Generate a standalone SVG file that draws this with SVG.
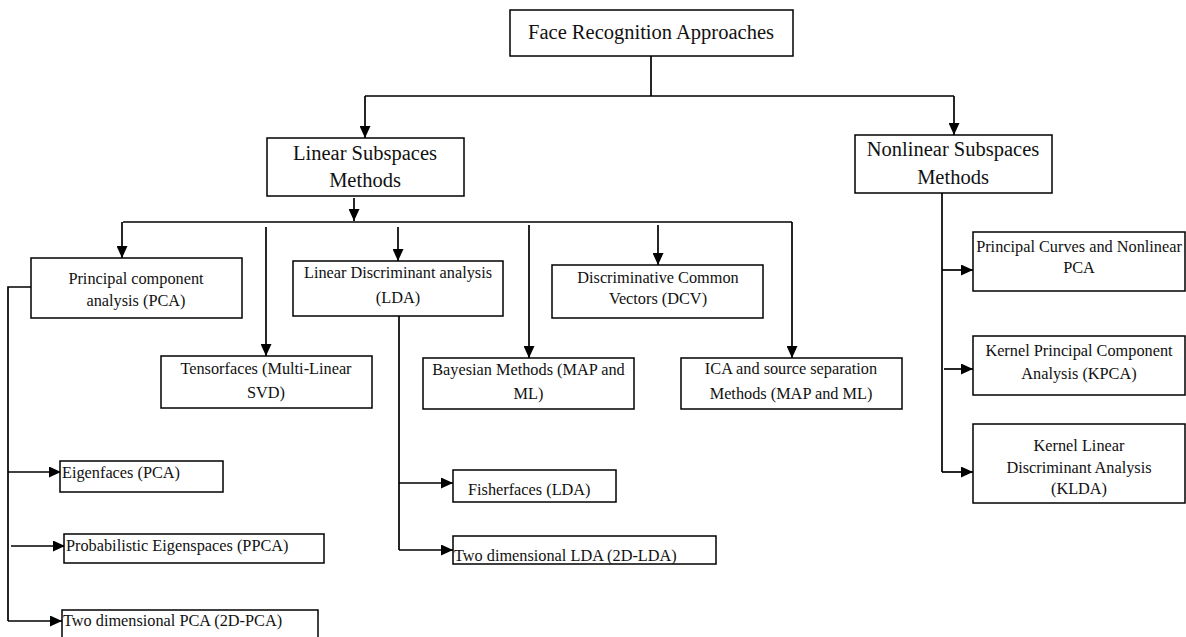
<svg xmlns="http://www.w3.org/2000/svg" width="1186" height="637" viewBox="0 0 1186 637">
<defs>
<marker id="arr" markerUnits="userSpaceOnUse" markerWidth="12" markerHeight="11" refX="12" refY="5.5" orient="auto">
<path d="M0,0 L12,5.5 L0,11 z" fill="#000"/>
</marker>
<style>
.box{fill:#fff;stroke:#000;stroke-width:1.5}
.t{font-family:"Liberation Serif","Times New Roman",serif;font-size:16.3px;fill:#111}
.c{text-anchor:middle}
.big{font-size:20.5px}
.ln{fill:none;stroke:#000;stroke-width:1.7}
.ar{fill:none;stroke:#000;stroke-width:1.7;marker-end:url(#arr)}
</style>
</defs>
<rect width="1186" height="637" fill="#fff"/>
<g id="connectors">
<path class="ln" d="M651 56 V96 M365 96 H954"/>
<path class="ar" d="M365 96 V138"/>
<path class="ar" d="M954 96 V135"/>
<path class="ar" d="M354 198 V221"/>
<path class="ln" d="M123 222 H792"/>
<path class="ar" d="M122 222 V258"/>
<path class="ar" d="M266 227 V356"/>
<path class="ar" d="M398 227 V261"/>
<path class="ar" d="M529 225 V358"/>
<path class="ar" d="M658 225 V265"/>
<path class="ar" d="M792 222 V358"/>
<path class="ln" d="M31 287 H8 V621"/>
<path class="ar" d="M8 472 H61"/>
<path class="ar" d="M11 546 H65"/>
<path class="ar" d="M8 621 H62"/>
<path class="ln" d="M399 316 V550"/>
<path class="ar" d="M399 483 H453"/>
<path class="ar" d="M399 550 H453"/>
<path class="ln" d="M942 193 V472"/>
<path class="ar" d="M942 270 H973"/>
<path class="ar" d="M944 369 H973"/>
<path class="ar" d="M942 472 H973"/>
</g>
<g id="root"><rect class="box" x="510" y="10" width="283" height="46"/><text class="t c big" x="651" y="39">Face Recognition Approaches</text></g>
<g id="linear"><rect class="box" x="267" y="138" width="197" height="58"/><text class="t c big" x="365" y="160">Linear Subspaces</text><text class="t c big" x="365" y="187">Methods</text></g>
<g id="nonlinear"><rect class="box" x="855" y="135" width="197" height="58"/><text class="t c big" x="953" y="156">Nonlinear Subspaces</text><text class="t c big" x="953" y="184">Methods</text></g>
<g id="pca"><rect class="box" x="31" y="258" width="211" height="60"/><text class="t c" x="136" y="283.5">Principal component</text><text class="t c" x="136" y="305.5">analysis (PCA)</text></g>
<g id="tensor"><rect class="box" x="161" y="356" width="211" height="52"/><text class="t c" x="266" y="373.5">Tensorfaces (Multi-Linear</text><text class="t c" x="266" y="397.5">SVD)</text></g>
<g id="lda"><rect class="box" x="293" y="261" width="210" height="55"/><text class="t c" x="398" y="277.5">Linear Discriminant analysis</text><text class="t c" x="398" y="302.5">(LDA)</text></g>
<g id="bayes"><rect class="box" x="423" y="358" width="211" height="51"/><text class="t c" x="528.5" y="374.5">Bayesian Methods (MAP and</text><text class="t c" x="528.5" y="398.5">ML)</text></g>
<g id="dcv"><rect class="box" x="552" y="265" width="211" height="53"/><text class="t c" x="658" y="282.5">Discriminative Common</text><text class="t c" x="658" y="303.5">Vectors (DCV)</text></g>
<g id="ica"><rect class="box" x="681" y="358" width="221" height="51"/><text class="t c" x="791" y="373.5">ICA and source separation</text><text class="t c" x="791" y="398.5">Methods (MAP and ML)</text></g>
<g id="pcurves"><rect class="box" x="973" y="232" width="212" height="59"/><text class="t c" x="1079" y="251.5">Principal Curves and Nonlinear</text><text class="t c" x="1079" y="272.5">PCA</text></g>
<g id="kpca"><rect class="box" x="973" y="336" width="212" height="59"/><text class="t c" x="1079" y="355.5">Kernel Principal Component</text><text class="t c" x="1079" y="378.5">Analysis (KPCA)</text></g>
<g id="klda"><rect class="box" x="973" y="424" width="212" height="79"/><text class="t c" x="1079" y="450.5">Kernel Linear</text><text class="t c" x="1079" y="472.5">Discriminant Analysis</text><text class="t c" x="1079" y="493.5">(KLDA)</text></g>
<g id="eigenfaces"><rect class="box" x="60" y="461" width="163" height="31"/><text class="t" x="62" y="477.5">Eigenfaces (PCA)</text></g>
<g id="ppca"><rect class="box" x="64" y="534" width="260" height="29"/><text class="t" x="66" y="551">Probabilistic Eigenspaces (PPCA)</text></g>
<g id="pca2d"><rect class="box" x="62" y="610" width="256" height="40"/><text class="t" x="63" y="626">Two dimensional PCA (2D-PCA)</text></g>
<g id="fisher"><rect class="box" x="453" y="470" width="163" height="32"/><text class="t" x="468" y="494.5">Fisherfaces (LDA)</text></g>
<g id="lda2d"><rect class="box" x="453" y="536" width="263" height="28"/><text class="t" x="454" y="560.5">Two dimensional LDA (2D-LDA)</text></g>
</svg>
